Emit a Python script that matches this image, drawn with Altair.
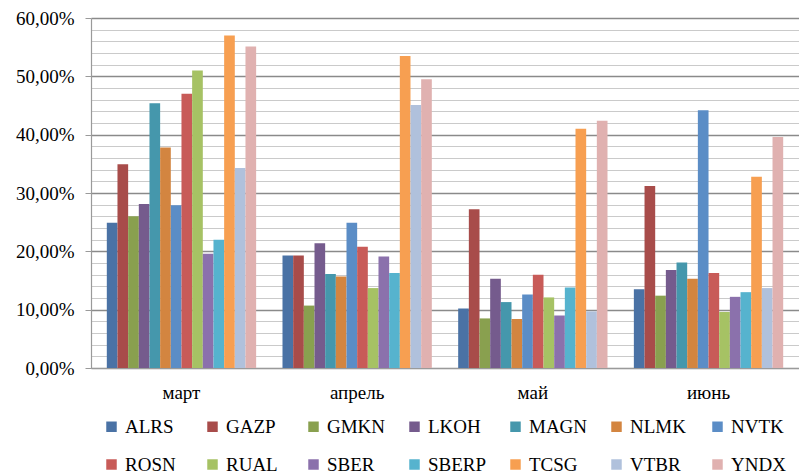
import altair as alt
import pandas as pd

months = ["март", "апрель", "май", "июнь"]
tickers = ["ALRS", "GAZP", "GMKN", "LKOH", "MAGN", "NLMK", "NVTK",
           "ROSN", "RUAL", "SBER", "SBERP", "TCSG", "VTBR", "YNDX"]
colors = ["#4A72A5", "#A84C4A", "#89A04F", "#755B8D", "#4597AC", "#D38540", "#5B8DC6",
          "#C85B58", "#A6C264", "#8B71AC", "#56B3CE", "#F79F51", "#B0C1DC", "#E0B1B0"]

mar = [24.9, 34.95, 26.0, 28.1, 45.4, 37.8, 27.9, 47.0, 51.0, 19.6, 22.0, 57.0, 34.3, 55.1]
apr = [19.3, 19.3, 10.7, 21.4, 16.1, 15.7, 24.9, 20.8, 13.7, 19.1, 16.3, 53.5, 45.1, 49.5]
may = [10.2, 27.2, 8.5, 15.3, 11.3, 8.4, 12.6, 16.0, 12.1, 9.0, 13.8, 41.0, 9.7, 42.4]
jun = [13.5, 31.2, 12.4, 16.8, 18.1, 15.3, 44.2, 16.3, 9.6, 12.2, 13.0, 32.8, 13.7, 39.6]

y_ticks = [0.00, 0.02, 0.04, 0.06, 0.08, 0.10, 0.12, 0.14, 0.16, 0.18, 0.20,
           0.22, 0.24, 0.26, 0.28, 0.30, 0.32, 0.34, 0.36, 0.38, 0.40,
           0.42, 0.44, 0.46, 0.48, 0.50, 0.52, 0.54, 0.56, 0.58, 0.60]

rows = []
for m, vals in zip(months, [mar, apr, may, jun]):
    for t, v in zip(tickers, vals):
        rows.append({"month": m, "ticker": t, "value": v / 100})
df = pd.DataFrame(rows)

FONT = "Liberation Serif"
major = "round(datum.value*100) % 10 == 0"

chart = alt.Chart(df).mark_bar().encode(
    x=alt.X("month:N", sort=months,
            scale=alt.Scale(paddingInner=0.15, paddingOuter=0.09),
            axis=alt.Axis(title=None, labelAngle=0, ticks=False, labelPadding=15,
                          labelFont=FONT, labelFontSize=19, labelColor="#000000",
                          domainColor="#9a9a9a", domainWidth=1.2, grid=False)),
    xOffset=alt.XOffset("ticker:N", sort=tickers,
                        scale=alt.Scale(paddingInner=0, paddingOuter=0)),
    y=alt.Y("value:Q", scale=alt.Scale(domain=[0, 0.6], nice=False),
            axis=alt.Axis(title=None, values=y_ticks,
                          labelExpr=major + " ? replace(format(datum.value, '.2%'), '.', ',') : ''",
                          labelFont=FONT, labelFontSize=19, labelColor="#000000",
                          labelPadding=11, tickSize=6,
                          tickColor=alt.condition(major, alt.value("#9a9a9a"), alt.value("transparent")),
                          domainColor="#9a9a9a", domainWidth=1.2,
                          grid=True,
                          gridColor=alt.condition(major, alt.value("#8a8a8a"), alt.value("#cacaca")),
                          gridWidth=alt.condition(major, alt.value(1.5), alt.value(1.2)))),
    color=alt.Color("ticker:N", sort=tickers,
                    scale=alt.Scale(domain=tickers, range=colors),
                    legend=alt.Legend(title=None, orient="none", legendX=11, legendY=399,
                                      direction="horizontal", columns=7, gridAlign="all",
                                      columnPadding=19, rowPadding=18,
                                      symbolType="square", symbolSize=110, symbolStrokeWidth=0,
                                      labelFont=FONT, labelFontSize=19, labelColor="#000000",
                                      labelOffset=4, padding=0)),
).properties(
    width=708, height=350,
    padding={"left": 7, "top": 1, "right": 0, "bottom": 0},
).configure_view(stroke=None)

chart.save("out.html", embed_options={"renderer": "svg", "actions": False})
